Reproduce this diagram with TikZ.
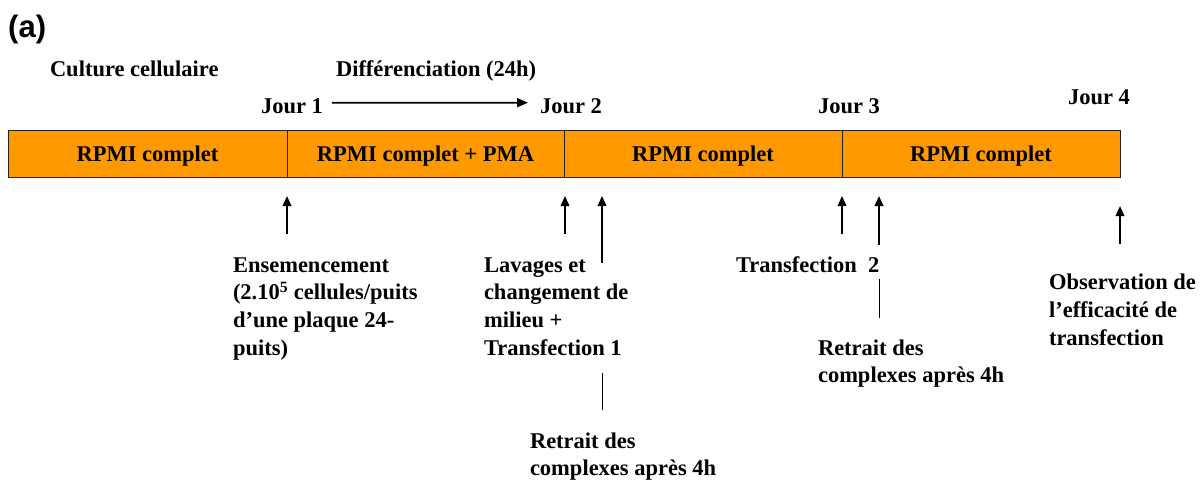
\documentclass[tikz,border=0pt]{standalone}
\usepackage{fontspec}
\setmainfont{Liberation Serif}
\newfontfamily\arialfont{Liberation Sans}
\usetikzlibrary{arrows.meta}
\definecolor{barorange}{HTML}{FF9900}
\definecolor{bordergray}{HTML}{222222}
\begin{document}
\begin{tikzpicture}[x=1pt,y=-1pt,
  txt/.style={inner sep=0pt, outer sep=0pt, font=\fontsize{22.5}{27.7}\selectfont\bfseries, align=left},
  cell/.style={draw=bordergray, line width=1pt, fill=barorange, minimum height=47pt, inner sep=0pt,
    text height=15pt, text depth=0pt, font=\fontsize{22.5}{27.7}\selectfont\bfseries},
  uparrow/.style={line width=2pt, -{Triangle[length=10pt,width=8.5pt]}},
  thinline/.style={line width=0.8pt}
]
\useasboundingbox (0,0) rectangle (1201,481);

\node[inner sep=0pt, anchor=base west, font=\arialfont\fontsize{31}{32}\selectfont\bfseries] (lbl) at (8,38) {(a)};

\node[txt, anchor=base west] (culture) at (50,77) {Culture cellulaire};
\node[txt, anchor=base west] (diff) at (336,77) {Différenciation (24h)};
\node[txt, anchor=base west] (j1) at (261,114) {Jour 1};
\node[txt, anchor=base west] (j2) at (540,114) {Jour 2};
\node[txt, anchor=base west] (j3) at (818,114) {Jour 3};
\node[txt, anchor=base west] (j4) at (1068,105) {Jour 4};
\draw[line width=1.8pt, -{Triangle[length=11pt,width=9pt]}] ([xshift=9pt,yshift=4pt]j1.east) -- ([xshift=-12pt,yshift=4pt]j2.west);

\node[cell, minimum width=279pt] (c1) at (147.5,154.5) {RPMI complet};
\node[cell, minimum width=277pt] (c2) at (425.5,154.5) {RPMI complet + PMA};
\node[cell, minimum width=278pt] (c3) at (703,154.5) {RPMI complet};
\node[cell, minimum width=278pt] (c4) at (981,154.5) {RPMI complet};

\node[txt, anchor=base west] (ens) at (233,355.1) {Ensemencement\\(2.10\textsuperscript{5} cellules/puits\\d’une plaque 24-\\puits)};
\node[txt, anchor=base west] (lav) at (484,355.1) {Lavages et\\changement de\\milieu +\\Transfection 1};
\node[txt, anchor=base west] (ret1) at (530,475.7) {Retrait des\\complexes après 4h};
\node[txt, anchor=base west] (tr2) at (736,272) {Transfection\ \ 2};
\node[txt, anchor=base west] (ret2) at (818,382.7) {Retrait des\\complexes après 4h};
\node[txt, anchor=base west] (obs) at (1049,345) {Observation de\\l’efficacité de\\transfection};

\coordinate (a1s) at (287,234); \coordinate (a1e) at (287,196);
\coordinate (a2s) at (565,234); \coordinate (a2e) at (565,196);
\coordinate (a3s) at (602,263); \coordinate (a3e) at (602,196);
\coordinate (a4s) at (842,234); \coordinate (a4e) at (842,196);
\coordinate (a5s) at (879,245); \coordinate (a5e) at (879,196);
\coordinate (a6s) at (1120,244); \coordinate (a6e) at (1120,206);
\draw[uparrow] (a1s) -- (a1e);
\draw[uparrow] (a2s) -- (a2e);
\draw[uparrow] (a3s) -- (a3e);
\draw[uparrow] (a4s) -- (a4e);
\draw[uparrow] (a5s) -- (a5e);
\draw[uparrow] (a6s) -- (a6e);

\coordinate (l1s) at (602,373); \coordinate (l1e) at (602,410);
\coordinate (l2s) at (879,279); \coordinate (l2e) at (879,318);
\draw[thinline] (l1s) -- (l1e);
\draw[thinline] (l2s) -- (l2e);
\end{tikzpicture}
\end{document}
